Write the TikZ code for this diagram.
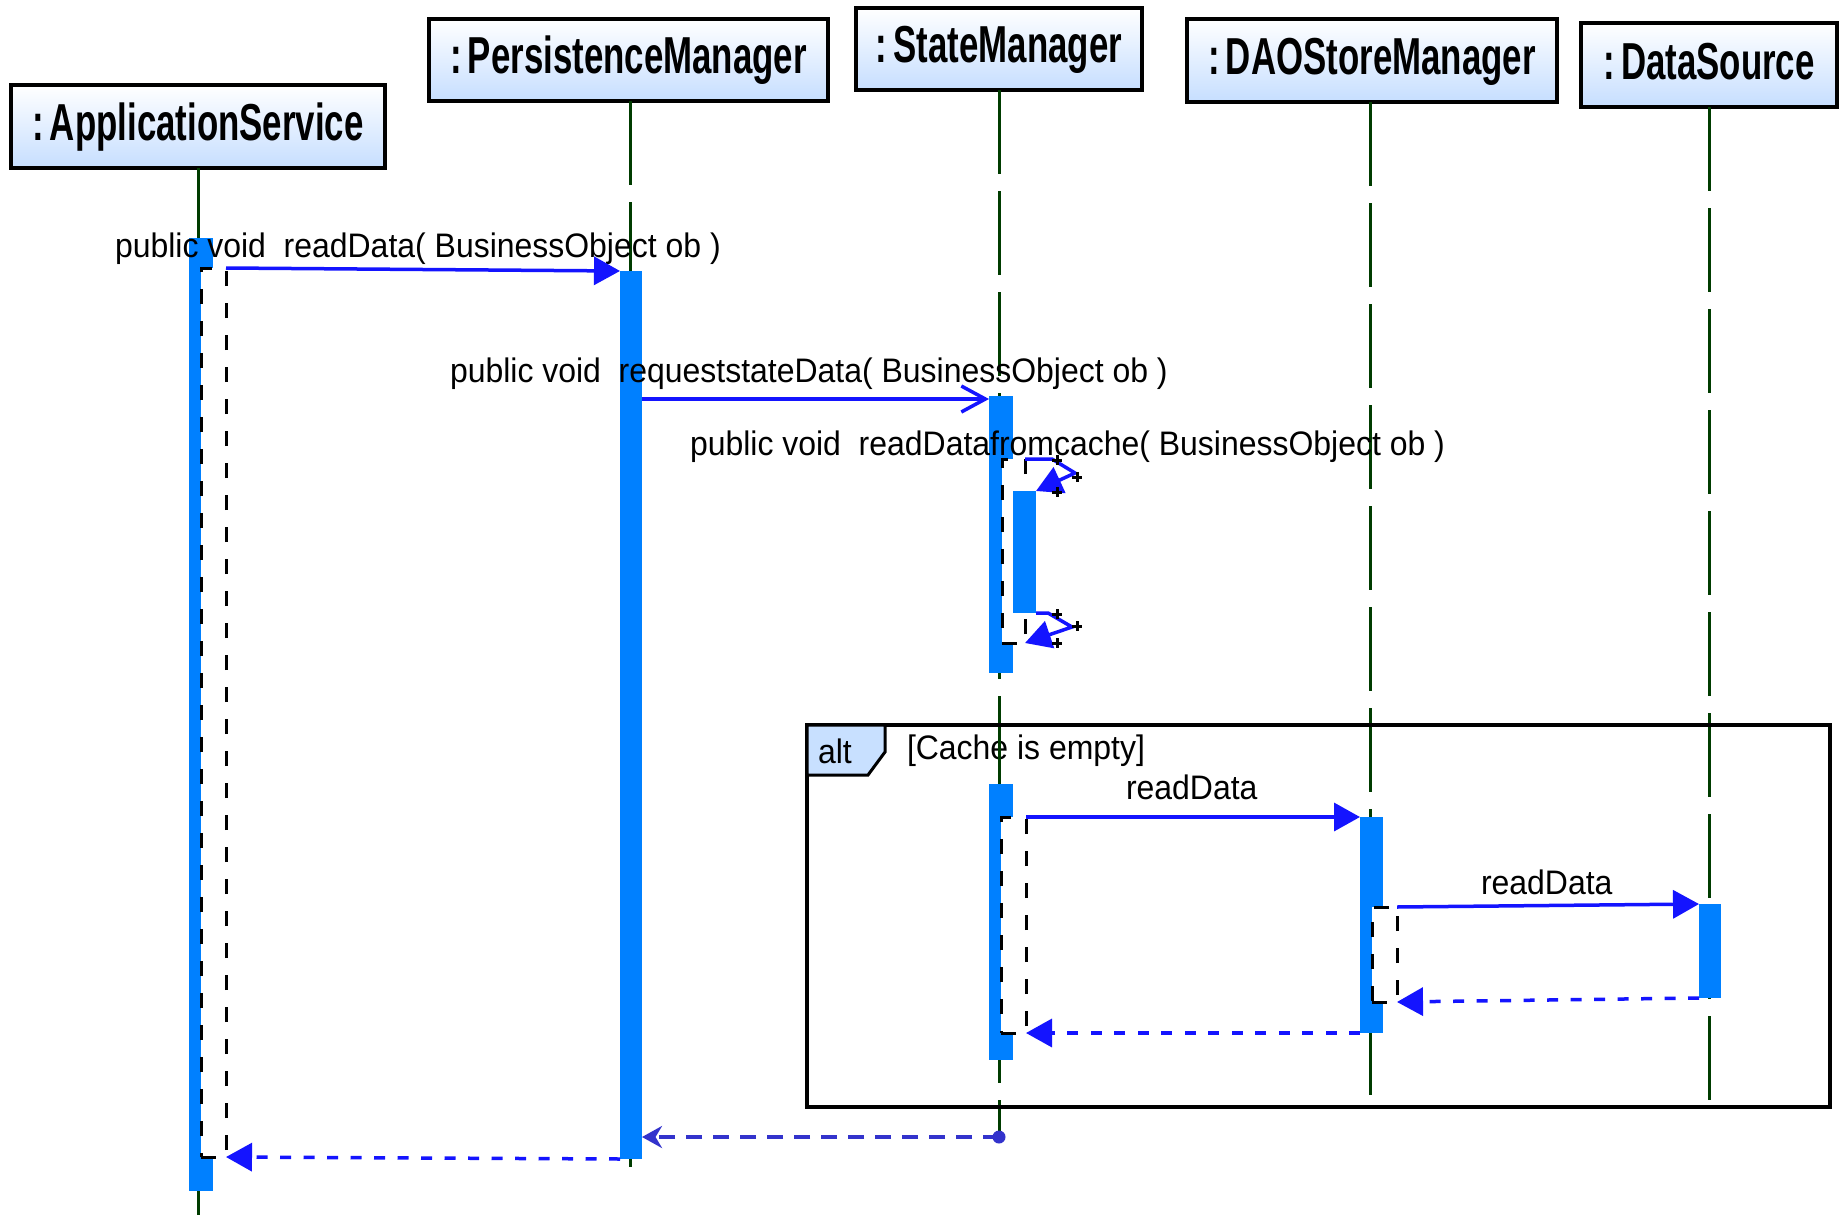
\documentclass[tikz,border=0pt]{standalone}
\usepackage{fontspec}
\setmainfont{Liberation Sans}
\newfontfamily\hdrfont{Liberation Sans}[FakeStretch=0.67]
\newfontfamily\msgfont{Liberation Sans}[FakeStretch=0.94]
\usetikzlibrary{arrows.meta}
\definecolor{msgblue}{RGB}{20,20,255}
\definecolor{barblue}{RGB}{0,128,255}
\definecolor{retblue}{RGB}{51,51,204}
\definecolor{lifegreen}{RGB}{0,60,0}
\definecolor{hdrblue}{RGB}{198,222,255}
\definecolor{tagblue}{RGB}{200,224,255}
\newcommand\mkbox[6]{\pgfmathsetmacro\bxw{#5-(#3)}\pgfmathsetmacro\bxh{#6-(#4)}%
  \node[#1,minimum width=\bxw pt,minimum height=\bxh pt] (#2) at ({(#3+#5)/2},{(#4+#6)/2}) {};}
\tikzset{
  hdr/.style={draw=black, line width=3.5pt, top color=white, bottom color=hdrblue,
    inner sep=0pt, outer sep=0pt, text height=37pt, text depth=9pt,
    font=\hdrfont\bfseries\fontsize{52}{60}\selectfont},
  lifeline/.style={draw=lifegreen, line width=3pt, dash pattern=on 84pt off 17pt},
  actbar/.style={fill=barblue, inner sep=0pt, outer sep=0pt},
  execbox/.style={fill=white, draw=black, line width=3pt, dash pattern=on 15pt off 17pt, inner sep=0pt, outer sep=0pt},
  msg/.style={draw=msgblue, line width=3.5pt, -{Triangle[length=26pt,width=28pt]}},
  msgopen/.style={draw=msgblue, line width=3.5pt, -{Straight Barb[length=24pt,width=26pt,line width=3.5pt]}},
  retmsg/.style={draw=msgblue, line width=3.5pt, dash pattern=on 11pt off 12.5pt, -{Triangle[length=26pt,width=28pt]}},
  retmsgb/.style={draw=retblue, line width=4pt, dash pattern=on 16pt off 11pt, -{Stealth[length=20pt,width=22pt]}},
  lbl/.style={inner sep=0pt, outer sep=0pt, anchor=base west, font=\msgfont\fontsize{34}{40}\selectfont},
  handle/.style={draw=black, line width=3pt},
  framebox/.style={draw=black, line width=3.5pt, inner sep=0pt, outer sep=0pt},
}
\begin{document}
\begin{tikzpicture}[x=1pt,y=-1pt]
\useasboundingbox (0,0) rectangle (1839,1215);
\fill[white] (0,0) rectangle (1839,1215);

% headers
\node[hdr, minimum width=374pt, minimum height=83pt] (as) at (198,126.5) {:\kern6pt ApplicationService};
\node[hdr, minimum width=399pt, minimum height=82pt] (pm) at (628.5,60) {:\kern6pt PersistenceManager};
\node[hdr, minimum width=286pt, minimum height=82pt] (sm) at (999,49) {:\kern6pt StateManager};
\node[hdr, minimum width=370pt, minimum height=83pt] (dao) at (1372,60.5) {:\kern6pt DAOStoreManager};
\node[hdr, minimum width=256pt, minimum height=84pt] (ds) at (1709,65) {:\kern6pt DataSource};

% lifeline ends
\coordinate (asend) at (198,1215);
\coordinate (pmend) at (630,1167);
\coordinate (smend) at (999,1137);
\coordinate (daoend) at (1370,1104);
\coordinate (dsend) at (1709,1104);

\draw[lifeline] (as.south -| asend) -- (asend);
\draw[lifeline] (pm.south -| pmend) -- (pmend);
\draw[lifeline] (sm.south -| smend) -- (smend);
\draw[lifeline] (dao.south -| daoend) -- (daoend);
\draw[lifeline] (ds.south -| dsend) -- (dsend);

% alt frame
\mkbox{framebox}{altframe}{807}{725}{1830}{1107}
\draw[black, line width=3pt, fill=tagblue] (altframe.north west) -- (885,725) -- (885,752) -- (868,775) -- (807,775) -- cycle;
\node[lbl] (alttag) at (818,763) {alt};
\node[lbl] (guard) at (907,759) {[Cache is empty]};
\draw[lifeline] (999,735) -- (999,784);

% activation bars and execution boxes
\mkbox{actbar}{asbar}{189}{238}{213}{1191}
\mkbox{execbox}{asx}{201}{268}{226}{1157}
\mkbox{actbar}{pmbar}{620}{271}{642}{1159}
\mkbox{actbar}{smbar}{989}{396}{1013}{673}
\mkbox{execbox}{smx1}{1002}{459}{1025}{643}
\mkbox{actbar}{smnest}{1013}{491}{1036}{613}
\mkbox{actbar}{smbar2}{989}{784}{1013}{1060}
\mkbox{execbox}{smx2}{1001}{817}{1026}{1033}
\mkbox{actbar}{daobar}{1360}{817}{1383}{1033}
\mkbox{execbox}{daox}{1372}{907}{1397}{1002}
\mkbox{actbar}{dsbar}{1699}{904}{1721}{998}

% labels
\node[lbl] (l1) at (115,257) {public void~ readData( BusinessObject ob )};
\node[lbl] (l2) at (450,382) {public void~ requeststateData( BusinessObject ob )};
\node[lbl] (l3) at (690,455) {public void~ readDatafromcache( BusinessObject ob )};
\node[lbl] (l4) at (1126,799) {readData};
\node[lbl] (l5) at (1481,894) {readData};

% messages
\draw[msg] (asx.north east) -- (pmbar.north west);
\draw[msgopen] (pmbar.east |- 0,399) -- (smbar.west |- 0,399);
\coordinate (s1a) at (1052,459);
\coordinate (s1b) at (1075,473);
\draw[msg] (smx1.north east) -- (s1a) -- (s1b) -- (smnest.north east);
\coordinate (s2a) at (1048,613);
\coordinate (s2b) at (1072,627);
\draw[msg] (smnest.south east) -- (s2a) -- (s2b) -- (smx1.south east);
\draw[msg] (smx2.north east) -- (daobar.north west);
\draw[msg] (daox.north east) -- (dsbar.north west);
\draw[retmsg] (dsbar.south west) -- (daox.south east);
\draw[retmsg] (daobar.south west) -- (smx2.south east);
\node[circle, fill=retblue, inner sep=0pt, minimum size=13pt] (dot) at (999,1137) {};
\draw[retmsgb] (dot.center) -- (pmbar.east |- dot.center);
\draw[retmsg] (pmbar.south west) -- (asx.south east);

% bend handles
\foreach \p in {(1057,460),(1077,477),(1057,492),(1057,614),(1077,626),(1057,643)}
  \draw[handle] \p +(-5,0) -- +(5,0) \p +(0,-5) -- +(0,5);
\end{tikzpicture}
\end{document}
